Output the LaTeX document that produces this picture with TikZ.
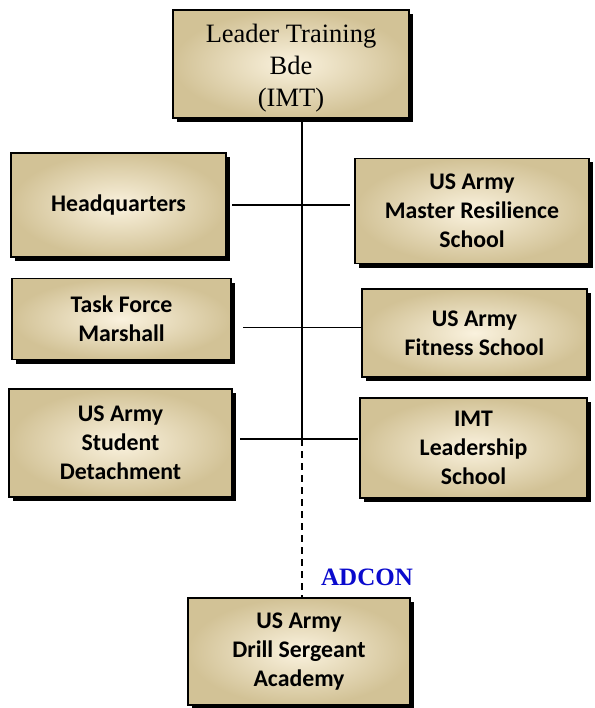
\documentclass[tikz,border=0pt]{standalone}
\usepackage{fontspec}
\setmainfont{Liberation Serif}
\newfontfamily\boxfont{Carlito}
\usetikzlibrary{shadows,calc}
\definecolor{tanout}{RGB}{210,194,150}
\definecolor{tanin}{RGB}{250,242,222}
\definecolor{adblue}{RGB}{10,10,205}
\begin{document}
\begin{tikzpicture}[x=1pt,y=-1pt,
  orgbox/.style={draw=black, line width=1.3pt, inner color=tanin, outer color=tanout,
    drop shadow={shadow xshift=4pt, shadow yshift=-4pt, fill=black, opacity=1},
    align=center, font=\boxfont\bfseries\fontsize{23.8}{29}\selectfont, inner sep=2pt},
  topbox/.style={orgbox},
  toptext/.style={align=center, font=\fontsize{26.5}{32}\selectfont},
  link/.style={line width=1.4pt, draw=black},
  dlink/.style={link, dash pattern=on 7pt off 5pt}]
\useasboundingbox (0,0) rectangle (594,708);
\node[topbox, minimum width=236pt, minimum height=108pt] (top) at (291,64) {};
\node[toptext] (toplbl) at (291,68) {Leader Training\\Bde\\(IMT)};
\node[orgbox, minimum width=215pt, minimum height=104pt] (hq) at (118.5,205) {Headquarters};
\node[orgbox, minimum width=234pt, minimum height=105pt] (mrs) at (472,211) {US Army\\Master Resilience\\School};
\node[orgbox, minimum width=219pt, minimum height=81pt] (tfm) at (121.5,319) {Task Force\\Marshall};
\node[orgbox, minimum width=225pt, minimum height=88pt] (fit) at (474.5,333) {US Army\\Fitness School};
\node[orgbox, minimum width=223pt, minimum height=108pt] (sd) at (120.5,443) {US Army\\Student\\Detachment};
\node[orgbox, minimum width=227pt, minimum height=100pt] (imt) at (473.5,448) {IMT\\Leadership\\School};
\node[orgbox, minimum width=222pt, minimum height=107pt] (dsa) at (299,651.5) {US Army\\Drill Sergeant\\Academy};
\node[font=\bfseries\fontsize{25}{30}\selectfont, text=adblue] (adcon) at (367,577) {ADCON};
% spine
\coordinate (s0) at (302,118);
\coordinate (s3) at (302,439);
\coordinate (s4) at (302,597.5);
\draw[link] (s0) -- (s3);
\draw[dlink] (s3) -- (s4);
% branches
\coordinate (hqa) at (232,205); \coordinate (hqb) at (350,205);
\coordinate (tfa) at (243,327.5); \coordinate (tfb) at (362,327.5);
\coordinate (sda) at (240,439); \coordinate (sdb) at (358,439);
\draw[link] (hqa) -- (hqb);
\draw[link] (tfa) -- (tfb);
\draw[link] (sda) -- (sdb);
\end{tikzpicture}
\end{document}
